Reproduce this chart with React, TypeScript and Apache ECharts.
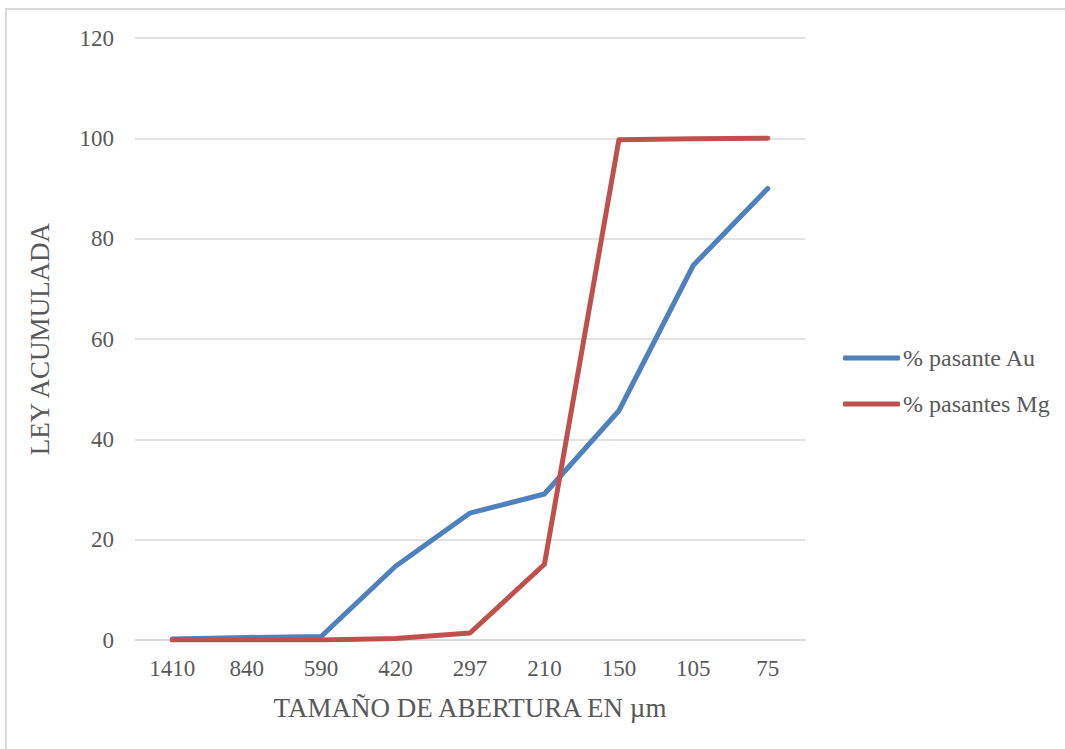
import React, { useEffect, useRef } from "react";
import * as echarts from "echarts";

const categories = ["1410", "840", "590", "420", "297", "210", "150", "105", "75"];
const pasanteAu = [0.2, 0.5, 0.7, 14.7, 25.3, 29.1, 45.7, 74.7, 90.0];
const pasantesMg = [0.0, 0.0, 0.0, 0.3, 1.4, 15.1, 99.7, 99.9, 100.0];
const seriesNames = ["% pasante Au", "% pasantes Mg"];
const yTitle = "LEY ACUMULADA";
const xTitle = "TAMAÑO DE ABERTURA EN µm";

const FONT = "Liberation Serif";
const TXT = "#595959";

export default function App() {
  const ref = useRef<HTMLDivElement>(null);
  useEffect(() => {
    if (!ref.current) return;
    const chart = echarts.init(ref.current, undefined, { renderer: "svg" });
    chart.setOption({
      animation: false,
      backgroundColor: "#ffffff",
      textStyle: { fontFamily: FONT },
      graphic: [
        {
          type: "rect",
          shape: { x: 6, y: 9, width: 1100, height: 800 },
          style: { fill: "none", stroke: "#d9d9d9", lineWidth: 2 },
          silent: true,
        },
      ],
      grid: { left: 135, right: 260, top: 38, bottom: 109 },
      legend: {
        orient: "vertical",
        left: 843,
        top: 346,
        padding: 0,
        itemWidth: 57,
        itemHeight: 5,
        itemGap: 22,
        icon: "roundRect",
        textStyle: { fontFamily: FONT, fontSize: 24, color: TXT, padding: [0, 0, 0, -2] },
        data: seriesNames,
      },
      xAxis: {
        type: "category",
        data: categories,
        boundaryGap: true,
        name: xTitle,
        nameLocation: "middle",
        nameGap: 54,
        nameTextStyle: { fontFamily: FONT, fontSize: 27, color: TXT },
        axisLine: { lineStyle: { color: "#d9d9d9", width: 1.5 } },
        axisTick: { show: false },
        axisLabel: { fontFamily: FONT, fontSize: 23, color: TXT, margin: 17 },
        splitLine: { show: false },
      },
      yAxis: {
        type: "value",
        min: 0,
        max: 120,
        interval: 20,
        name: yTitle,
        nameLocation: "middle",
        nameGap: 82,
        nameTextStyle: { fontFamily: FONT, fontSize: 27, color: TXT },
        axisLine: { show: false },
        axisTick: { show: false },
        axisLabel: { fontFamily: FONT, fontSize: 23, color: TXT, margin: 21 },
        splitLine: { lineStyle: { color: "#d9d9d9", width: 1.5 } },
      },
      series: [
        {
          name: seriesNames[0],
          type: "line",
          data: pasanteAu,
          showSymbol: false,
          symbol: "none",
          color: "#4f81bd",
          lineStyle: { width: 5, color: "#4f81bd", cap: "round", join: "round" },
        },
        {
          name: seriesNames[1],
          type: "line",
          data: pasantesMg,
          showSymbol: false,
          symbol: "none",
          color: "#c0504d",
          lineStyle: { width: 5, color: "#c0504d", cap: "round", join: "round" },
        },
      ],
    });
    return () => chart.dispose();
  }, []);
  return (
    <div
      ref={ref}
      style={{ position: "absolute", left: 0, top: 0, width: 1065, height: 749 }}
    />
  );
}
